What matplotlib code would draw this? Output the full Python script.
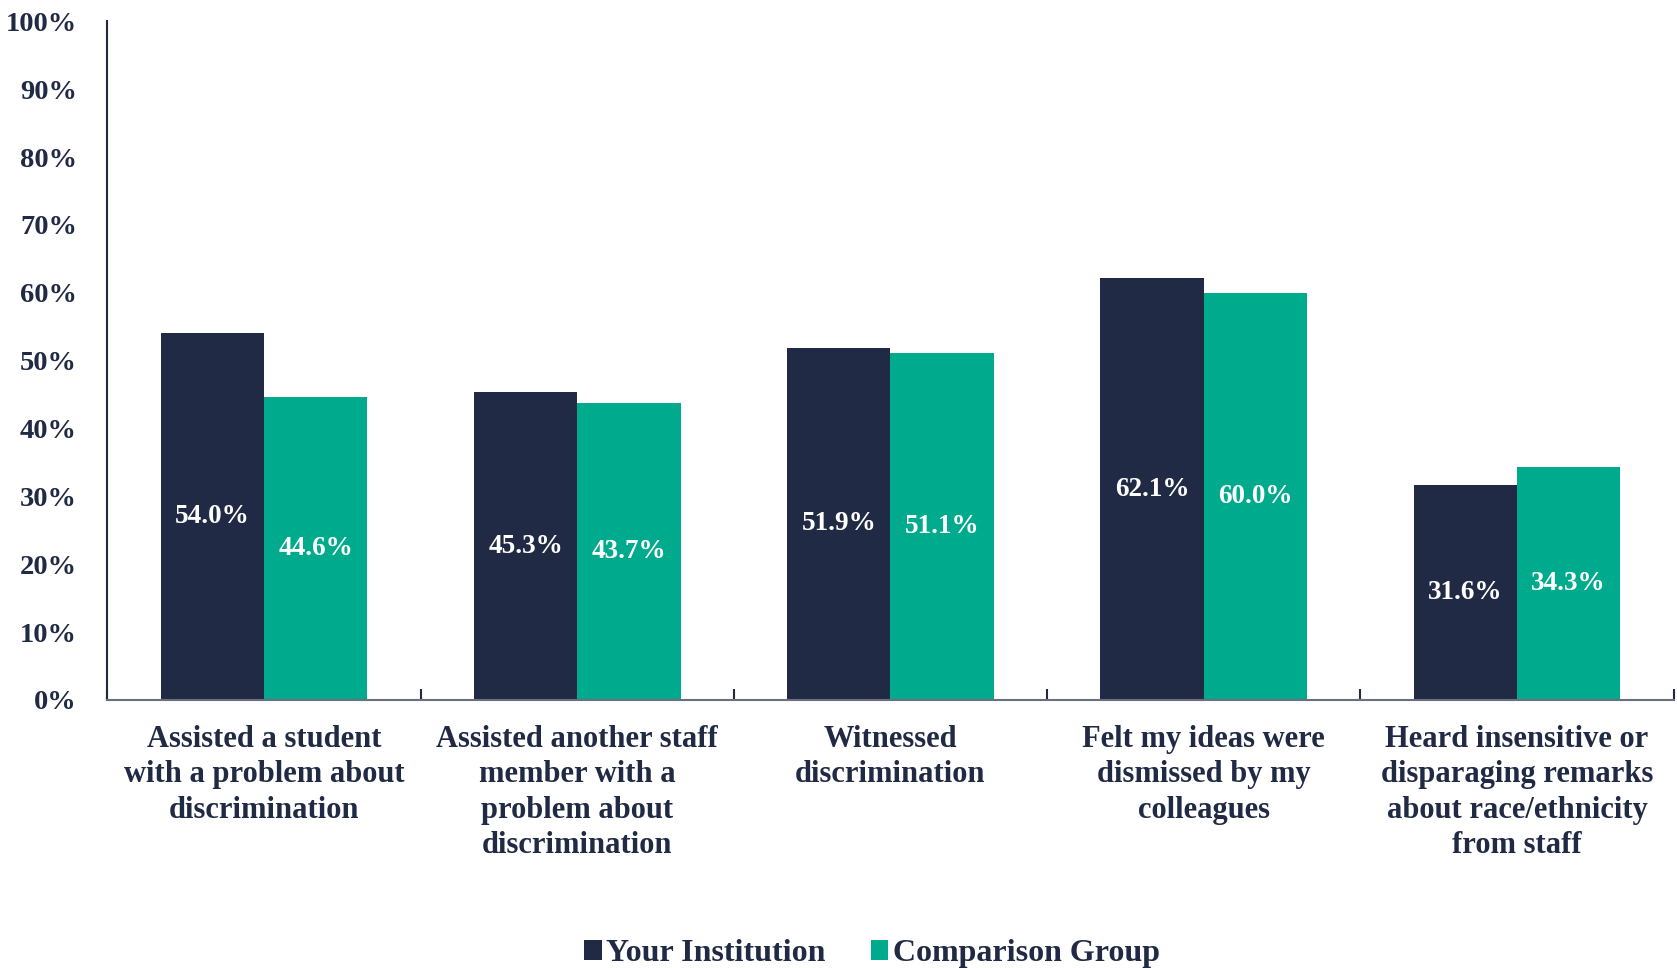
import matplotlib.pyplot as plt
import numpy as np

categories = ["Assisted a student\nwith a problem about\ndiscrimination",
              "Assisted another staff\nmember with a\nproblem about\ndiscrimination",
              "Witnessed\ndiscrimination",
              "Felt my ideas were\ndismissed by my\ncolleagues",
              "Heard insensitive or\ndisparaging remarks\nabout race/ethnicity\nfrom staff"]
your_institution = [54.0, 45.3, 51.9, 62.1, 31.6]
comparison_group = [44.6, 43.7, 51.1, 60.0, 34.3]

navy = "#202A44"
teal = "#00AA8D"

plt.rcParams['font.family'] = ['Liberation Serif', 'DejaVu Serif']
plt.rcParams['font.weight'] = 'bold'

fig = plt.figure(figsize=(16.77, 9.68), dpi=100)
ax = fig.add_axes([0.064, 0.277, 0.934, 0.701])

x = np.arange(len(categories))
w = 0.33
b1 = ax.bar(x - w / 2, your_institution, w, color=navy, label="Your Institution")
b2 = ax.bar(x + w / 2, comparison_group, w, color=teal, label="Comparison Group")

# value labels sit in the middle of each bar
for bars, vals in [(b1, your_institution), (b2, comparison_group)]:
    for rect, v in zip(bars, vals):
        ax.text(rect.get_x() + rect.get_width() / 2, v / 2, f"{v:.1f}%",
                ha='center', va='center', color='white', fontsize=19.5, fontweight='bold')

ax.set_ylim(0, 100)
ax.set_xlim(-0.5, len(categories) - 0.5)
ax.set_yticks(np.arange(0, 101, 10))
ax.set_yticklabels([f"{t}%" for t in range(0, 101, 10)], fontsize=20.5, color=navy)
ax.tick_params(axis='y', length=0, pad=22)

ax.set_xticks(x)
ax.set_xticklabels(categories, fontsize=22, color=navy, linespacing=1.29)
ax.tick_params(axis='x', length=0, pad=18)
ax.set_xticks(np.arange(-0.5, len(categories)), minor=True)
ax.tick_params(axis='x', which='minor', direction='in', length=8, color=navy, width=1.5)

for s in ['top', 'right']:
    ax.spines[s].set_visible(False)
ax.spines['left'].set_color(navy)
ax.spines['left'].set_linewidth(1.5)
ax.spines['bottom'].set_color('#6b7080')
ax.spines['bottom'].set_linewidth(1.5)

leg = fig.legend(loc='lower center', bbox_to_anchor=(0.52, -0.03), ncol=2, frameon=False,
                 fontsize=23, handlelength=0.55, handleheight=0.55, handletextpad=0.15,
                 columnspacing=1.4)
for t in leg.get_texts():
    t.set_color(navy)

fig.savefig("out.png", dpi=100)
